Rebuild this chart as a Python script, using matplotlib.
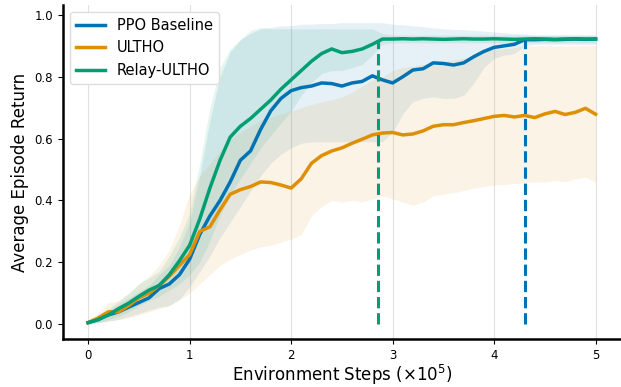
import matplotlib
matplotlib.use("Agg")
import matplotlib.pyplot as plt
import numpy as np

# environment steps (x 1e5)
steps = np.round(np.arange(0, 5.01, 0.1), 2)

ppo_mean = [0.005, 0.015, 0.03, 0.04, 0.055, 0.07, 0.085, 0.115, 0.13, 0.16,
            0.21, 0.29, 0.35, 0.40, 0.46, 0.53, 0.56, 0.63, 0.69, 0.73,
            0.755, 0.765, 0.77, 0.78, 0.778, 0.77, 0.78, 0.785, 0.803, 0.79,
            0.78, 0.80, 0.822, 0.826, 0.845, 0.843, 0.838, 0.845, 0.865, 0.882,
            0.895, 0.90, 0.905, 0.92, 0.92, 0.921, 0.92, 0.921, 0.922, 0.921, 0.922]
ppo_low = [0.0, 0.005, 0.01, 0.015, 0.025, 0.035, 0.045, 0.055, 0.06, 0.08,
           0.12, 0.17, 0.22, 0.28, 0.33, 0.38, 0.43, 0.48, 0.52, 0.55,
           0.57, 0.585, 0.59, 0.59, 0.59, 0.59, 0.59, 0.59, 0.59, 0.59,
           0.62, 0.68, 0.72, 0.73, 0.735, 0.73, 0.73, 0.74, 0.78, 0.83,
           0.86, 0.87, 0.875, 0.90, 0.905, 0.905, 0.905, 0.905, 0.905, 0.905, 0.905]
ppo_high = [0.01, 0.025, 0.045, 0.065, 0.085, 0.105, 0.125, 0.16, 0.19, 0.25,
            0.33, 0.48, 0.66, 0.80, 0.88, 0.92, 0.94, 0.955, 0.96, 0.965,
            0.965, 0.97, 0.97, 0.972, 0.972, 0.975, 0.975, 0.975, 0.975, 0.975,
            0.97, 0.968, 0.965, 0.962, 0.958, 0.955, 0.953, 0.952, 0.95, 0.948,
            0.945, 0.943, 0.94, 0.938, 0.935, 0.935, 0.935, 0.935, 0.935, 0.935, 0.935]

ultho_mean = [0.005, 0.02, 0.04, 0.04, 0.06, 0.085, 0.10, 0.125, 0.155, 0.19,
              0.225, 0.30, 0.315, 0.37, 0.42, 0.435, 0.445, 0.46, 0.458, 0.45,
              0.44, 0.47, 0.52, 0.545, 0.56, 0.57, 0.585, 0.598, 0.612, 0.618,
              0.62, 0.612, 0.615, 0.625, 0.64, 0.645, 0.645, 0.652, 0.658, 0.665,
              0.672, 0.675, 0.67, 0.675, 0.668, 0.68, 0.688, 0.678, 0.685, 0.698, 0.679]
ultho_low = [0.0, 0.005, 0.01, 0.015, 0.02, 0.03, 0.04, 0.05, 0.06, 0.08,
             0.10, 0.13, 0.16, 0.19, 0.21, 0.225, 0.24, 0.25, 0.255, 0.265,
             0.275, 0.29, 0.35, 0.38, 0.40, 0.395, 0.40, 0.395, 0.405, 0.415,
             0.405, 0.395, 0.385, 0.395, 0.415, 0.42, 0.425, 0.432, 0.44, 0.445,
             0.45, 0.452, 0.455, 0.458, 0.46, 0.46, 0.465, 0.46, 0.47, 0.475, 0.46]
ultho_high = [0.01, 0.035, 0.07, 0.075, 0.10, 0.13, 0.155, 0.19, 0.24, 0.32,
              0.42, 0.48, 0.52, 0.56, 0.60, 0.62, 0.64, 0.66, 0.67, 0.68,
              0.69, 0.70, 0.71, 0.72, 0.725, 0.735, 0.75, 0.77, 0.79, 0.80,
              0.82, 0.83, 0.835, 0.84, 0.845, 0.85, 0.855, 0.86, 0.87, 0.88,
              0.89, 0.89, 0.895, 0.90, 0.90, 0.90, 0.90, 0.90, 0.90, 0.90, 0.90]

relay_mean = [0.005, 0.015, 0.03, 0.05, 0.068, 0.09, 0.11, 0.125, 0.16, 0.205,
              0.255, 0.34, 0.44, 0.53, 0.605, 0.64, 0.665, 0.695, 0.725, 0.76,
              0.79, 0.82, 0.85, 0.875, 0.89, 0.878, 0.882, 0.89, 0.905, 0.922,
              0.922, 0.923, 0.922, 0.923, 0.922, 0.921, 0.922, 0.923, 0.922, 0.922,
              0.923, 0.922, 0.921, 0.922, 0.923, 0.922, 0.921, 0.922, 0.923, 0.922, 0.922]
relay_low = [0.0, 0.005, 0.015, 0.025, 0.04, 0.06, 0.075, 0.09, 0.11, 0.13,
             0.16, 0.20, 0.27, 0.35, 0.42, 0.47, 0.52, 0.57, 0.61, 0.65,
             0.69, 0.74, 0.78, 0.81, 0.82, 0.82, 0.83, 0.84, 0.87, 0.905,
             0.91, 0.91, 0.91, 0.91, 0.91, 0.91, 0.91, 0.91, 0.91, 0.91,
             0.91, 0.91, 0.91, 0.91, 0.91, 0.91, 0.91, 0.91, 0.91, 0.91, 0.91]
relay_high = [0.01, 0.03, 0.05, 0.075, 0.10, 0.13, 0.15, 0.17, 0.22, 0.28,
              0.36, 0.52, 0.70, 0.83, 0.89, 0.92, 0.95, 0.96, 0.955, 0.955,
              0.955, 0.955, 0.955, 0.955, 0.955, 0.955, 0.955, 0.955, 0.955, 0.94,
              0.935, 0.935, 0.935, 0.935, 0.935, 0.935, 0.935, 0.935, 0.935, 0.935,
              0.935, 0.935, 0.935, 0.935, 0.935, 0.935, 0.935, 0.935, 0.935, 0.935, 0.935]

# steps where each method first reaches its final level
converge_relay = 2.86
converge_ppo = 4.30
converge_level = 0.92

colors = {"PPO Baseline": "#0173b2", "ULTHO": "#de8f05", "Relay-ULTHO": "#029e73"}

fig, ax = plt.subplots(figsize=(6.21, 3.87), dpi=100)
fig.subplots_adjust(left=0.101, right=1.0, bottom=0.124, top=0.987)

series = [
    ("PPO Baseline", ppo_mean, ppo_low, ppo_high),
    ("ULTHO", ultho_mean, ultho_low, ultho_high),
    ("Relay-ULTHO", relay_mean, relay_low, relay_high),
]
for name, mean, low, high in series:
    ax.fill_between(steps, low, high, color=colors[name], alpha=0.1, lw=0)
for name, mean, low, high in series:
    ax.plot(steps, mean, color=colors[name], lw=2.5, label=name)

ax.vlines(converge_relay, 0, converge_level, colors=colors["Relay-ULTHO"],
          linestyles="--", lw=2.2)
ax.vlines(converge_ppo, 0, converge_level, colors=colors["PPO Baseline"],
          linestyles="--", lw=2.2)

ax.set_xlim(-0.25, 5.25)
ax.set_ylim(-0.048, 1.032)
ax.set_xticks([0, 1, 2, 3, 4, 5])
ax.set_yticks([0.0, 0.2, 0.4, 0.6, 0.8, 1.0])
ax.tick_params(labelsize=8.5)
ax.grid(axis="x", color="#e0e0e0", lw=0.8)
ax.set_axisbelow(True)
for side in ["top", "right"]:
    ax.spines[side].set_visible(False)
for side in ["left", "bottom"]:
    ax.spines[side].set_linewidth(1.8)

ax.set_xlabel(r"Environment Steps ($\times 10^5$)", fontsize=12, labelpad=1)
ax.set_ylabel("Average Episode Return", fontsize=12)
ax.legend(loc="upper left", fontsize=10.5, framealpha=1.0, edgecolor="#dddddd",
          handlelength=2.0, borderaxespad=0.5)

plt.savefig("out.png", dpi=100)
